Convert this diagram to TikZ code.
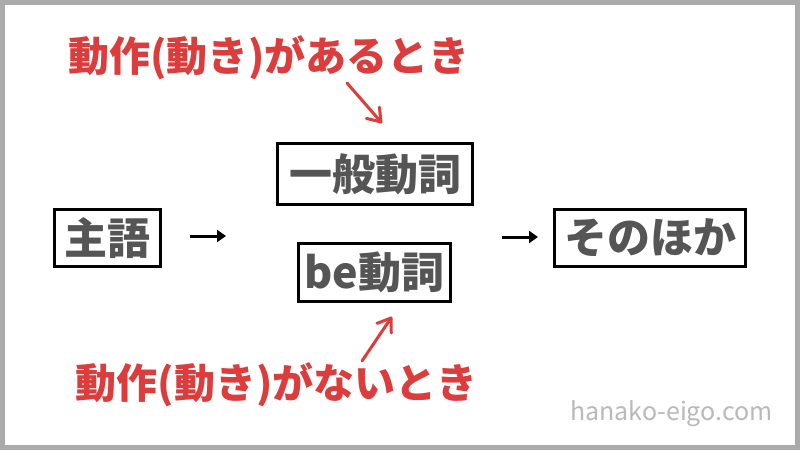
\documentclass[tikz,border=0pt]{standalone}
\usepackage{fontspec}
\setmainfont{Noto Sans CJK JP}
\newfontfamily\jp{Noto Sans CJK JP}
\usetikzlibrary{arrows.meta,calc}
\definecolor{redtxt}{RGB}{221,60,60}
\definecolor{boxtxt}{RGB}{85,85,85}
\definecolor{frame}{RGB}{170,170,170}
\definecolor{wm}{RGB}{185,185,185}
\begin{document}
\begin{tikzpicture}[x=1pt,y=-1pt,
  wordbox/.style={draw=black,line width=3pt,inner sep=0pt,text=boxtxt,
    font=\jp\bfseries\fontsize{43}{43}\selectfont},
  note/.style={text=redtxt,inner sep=0pt,font=\jp\bfseries\fontsize{41}{41}\selectfont},
  flow/.style={line width=3pt,-{Triangle[length=9pt,width=12pt]}},
  hint/.style={draw=redtxt,line width=3pt,line cap=round,line join=round}]
\fill[white] (0,0) rectangle (800,450);
\draw[frame,line width=5pt] (2.5,2.5) rectangle (797.5,447.5);
\useasboundingbox (0,0) rectangle (800,450);
\node[wordbox,minimum width=106pt,minimum height=57pt] (subj) at (107.5,238) {主語};
\node[wordbox,minimum width=195pt,minimum height=61pt] (ippan) at (375,174) {一般動詞};
\node[wordbox,minimum width=152pt,minimum height=58pt] (be) at (374.5,272.5) {be動詞};
\node[wordbox,minimum width=191pt,minimum height=57pt] (other) at (650,238) {そのほか};
\coordinate (a1s) at (190,236);
\coordinate (a1e) at (226,236);
\coordinate (a2s) at (502,237);
\coordinate (a2e) at (538,237);
\draw[flow] (a1s) -- (a1e);
\draw[flow] (a2s) -- (a2e);
\node[note] (top) at (269,58) {動作(動き)があるとき};
\node[note] (bot) at (276.5,385) {動作(動き)がないとき};
\coordinate (t1) at (347,83);
\coordinate (t2) at (381,122);
\coordinate (b1) at (362,361);
\coordinate (b2) at (391,318);
\draw[hint] (t1) -- (t2);
\draw[hint] ($(t2)!15pt!35:(t1)$) -- (t2) -- ($(t2)!15pt!-35:(t1)$);
\draw[hint] (b1) -- (b2);
\draw[hint] ($(b2)!15pt!35:(b1)$) -- (b2) -- ($(b2)!15pt!-35:(b1)$);
\node[text=wm,inner sep=0pt,font=\jp\fontsize{25}{25}\selectfont] (site) at (671.5,414) {hanako-eigo.com};
\end{tikzpicture}
\end{document}
